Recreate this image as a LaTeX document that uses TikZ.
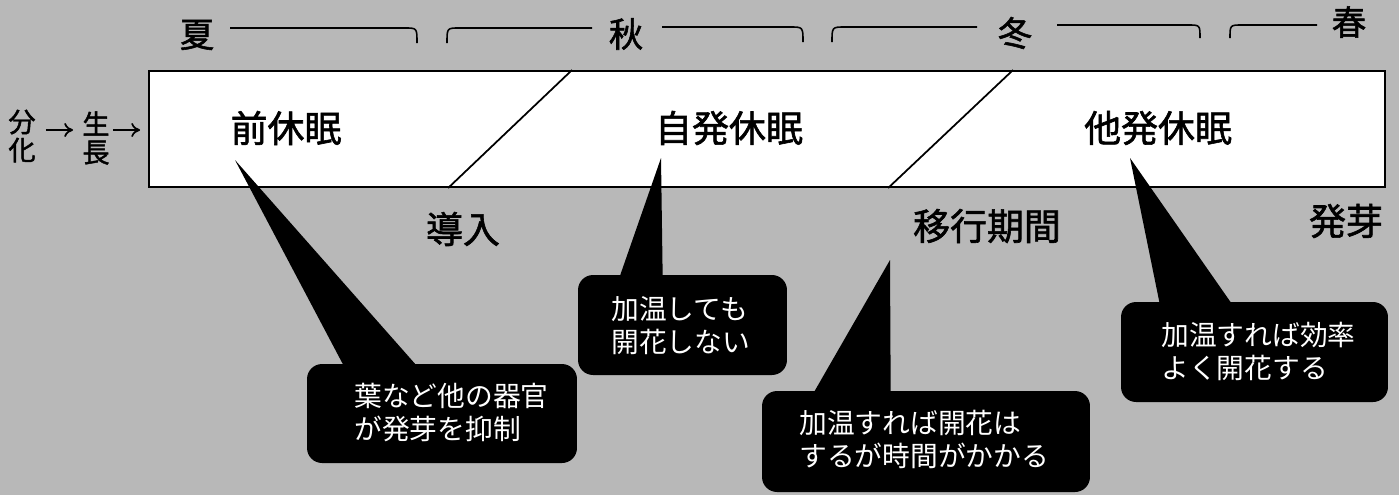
\documentclass[tikz,border=0pt]{standalone}
\usepackage{fontspec}
\setmainfont{Noto Sans CJK JP}
\newfontfamily\heavycjk[FakeBold=1.6]{Noto Sans CJK JP}
\usetikzlibrary{calc,arrows.meta}
\definecolor{bg}{gray}{0.72}
\begin{document}
\begin{tikzpicture}[x=0.02cm,y=-0.02cm,
  season/.style={inner sep=0, font=\heavycjk\fontsize{19.5}{19.5}\selectfont},
  biglabel/.style={inner sep=0, font=\heavycjk\fontsize{21}{21}\selectfont},
  sidelabel/.style={inner sep=0, align=center, font=\heavycjk\fontsize{15.5}{16}\selectfont},
  stagebox/.style={draw, fill=white, line width=1.2pt, inner sep=0},
  divider/.style={line width=1pt},
  callout/.style={fill=black, rounded corners=0.3cm, inner sep=0},
  callouttext/.style={inner sep=0, text=white, align=left, anchor=west, font=\fontsize{15.8}{19.2}\selectfont},
  wedge/.style={fill=black},
  bracket/.style={line width=0.9pt},
  flowarrow/.style={line width=1pt, -{To[length=5pt,width=8pt]}}]
\useasboundingbox (0,0) rectangle (1399,495);
\fill[bg] (0,0) rectangle (1399,495);

% seasons
\node[season] (natsu) at (197,35) {夏};
\node[season] (aki) at (626,34) {秋};
\node[season] (fuyu) at (1015,33) {冬};
\node[season] (haru) at (1349,22) {春};
\draw[bracket] (230,28) -- (405,28) .. controls (417,28) .. (417,43);
\draw[bracket] (447,43) .. controls (447,28) .. (459,28) -- (592,28);
\draw[bracket] (662,27) -- (790,27) .. controls (803,27) .. (803,42);
\draw[bracket] (832,42) .. controls (832,27) .. (845,27) -- (977,27);
\draw[bracket] (1057,25) -- (1188,25) .. controls (1200,25) .. (1200,38);
\draw[bracket] (1230,38) .. controls (1230,25) .. (1242,25) -- (1317,25);

% main band
\node[stagebox, minimum width=24.72cm, minimum height=2.32cm] (stage) at (767,129) {};
\draw[divider] ($(stage.north west)+(424,0)$) -- ($(stage.south west)+(300,0)$);
\draw[divider] ($(stage.north west)+(865,0)$) -- ($(stage.south west)+(740,0)$);

% left labels
\node[sidelabel] (bunka) at (22,136) {分\\化};
\node[sidelabel] (seicho) at (96,138) {生\\長};
\draw[flowarrow] ($(bunka.east)+(10,-6)$) -- ($(seicho.west)+(-9,-8)$);
\draw[flowarrow] ($(seicho.east)+(3,-8)$) -- ($(stage.west)+(-8,1)$);

% stage labels
\node[biglabel] (zen) at (286,128) {前休眠};
\node[biglabel] (jihatsu) at (729,128) {自発休眠};
\node[biglabel] (tahatsu) at (1158,128) {他発休眠};
\node[biglabel] (dounyu) at (463,229) {導入};
\node[biglabel] (ikou) at (987,226) {移行期間};
\node[biglabel] (hatsuga) at (1346,221) {発芽};

% callout 1
\node[callout, minimum width=5.4cm, minimum height=1.98cm] (c1) at (442,413.5) {};
\coordinate (t1) at (235,160);
\fill[wedge] (t1) -- ($(c1.north west)+(37,2)$) -- ($(c1.north west)+(110,2)$) -- cycle;
\node[callouttext] at (354,412.5) {葉など他の器官\\が発芽を抑制};

% callout 2
\node[callout, minimum width=4.18cm, minimum height=2.0cm] (c2) at (682.5,325) {};
\coordinate (t2) at (661,158);
\fill[wedge] (t2) -- ($(c2.north west)+(42,2)$) -- ($(c2.north west)+(85,2)$) -- cycle;
\node[callouttext] at (611,325.5) {加温しても\\開花しない};

% callout 3
\node[callout, minimum width=6.56cm, minimum height=2.02cm] (c3) at (926,441.5) {};
\coordinate (t3) at (890,260);
\fill[wedge] (t3) -- ($(c3.north west)+(52,2)$) -- ($(c3.north west)+(129,2)$) -- cycle;
\node[callouttext] at (799,439.5) {加温すれば開花は\\するが時間がかかる};

% callout 4
\node[callout, minimum width=5.34cm, minimum height=2.0cm] (c4) at (1254.5,352) {};
\coordinate (t4) at (1130,158);
\fill[wedge] (t4) -- ($(c4.north west)+(39,2)$) -- ($(c4.north west)+(111,2)$) -- cycle;
\node[callouttext] at (1161,351.5) {加温すれば効率\\よく開花する};
\end{tikzpicture}
\end{document}
